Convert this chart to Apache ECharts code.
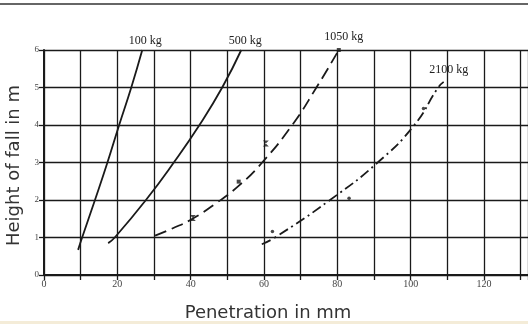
<!DOCTYPE html>
<html>
<head>
<meta charset="utf-8">
<script src="https://cdn.jsdelivr.net/npm/echarts@6/dist/echarts.min.js"></script>
<style>html,body{margin:0;padding:0;background:#fff;}#c{width:528px;height:324px;}</style>
</head>
<body>
<div id="c"></div>
<script>
// Curve names
var curveNames = ['100 kg', '500 kg', '1050 kg', '2100 kg'];
// Penetration (mm) and height of fall (m) along each curve
var kg100X = [9.3, 10.4, 13.9, 17.3, 20.5, 23.8, 26.8];
var kg100Y = [0.67, 1, 2, 3, 4, 5, 6];
var kg500X = [17.5, 19.3, 27.8, 35.4, 42.4, 48.6, 53.8];
var kg500Y = [0.85, 1, 2, 3, 4, 5, 6];
var kg1050X = [30.3, 35, 40.5, 47, 53, 59.5, 67.7, 74.3, 80.4];
var kg1050Y = [1.05, 1.24, 1.5, 1.92, 2.37, 3, 4, 5, 6];
var kg2100X = [59.4, 63, 78, 91, 101, 107.5, 109];
var kg2100Y = [0.82, 1, 2, 3, 4, 5, 5.15];
// Measured points
var crossX = [40.6, 60.5];
var crossY = [1.52, 3.51];
var squareX = [53.1, 80.4];
var squareY = [2.49, 6];
var dotX = [62.3, 83.2, 103.5];
var dotY = [1.16, 2.05, 4.44];
// Axis ticks
var xTickLabels = [0, 20, 40, 60, 80, 100, 120];
var yTickLabels = [0, 1, 2, 3, 4, 5, 6];

function pairs(xs, ys) { return xs.map(function (x, i) { return [x, ys[i]]; }); }

var ink = '#1a1a1a';
var labelFont = 'Liberation Serif';
var nameFont = 'DejaVu Sans';

function curve(name, xs, ys, type, labelOffset, labelDist) {
  var d = pairs(xs, ys);
  return {
    name: name, type: 'line', data: d, smooth: 0.5, symbol: 'none',
    lineStyle: { color: ink, width: 1.8, type: type },
    markPoint: {
      symbol: 'circle', symbolSize: 1, itemStyle: { color: 'rgba(0,0,0,0)' },
      silent: true,
      data: [{ coord: d[d.length - 1], label: { show: true, formatter: name, position: 'top', distance: labelDist, offset: labelOffset, color: '#222', fontFamily: labelFont, fontSize: 12 } }]
    },
    z: 3
  };
}

var chart = echarts.init(document.getElementById('c'), null, { renderer: 'canvas' });
chart.setOption({
  animation: false,
  backgroundColor: '#ffffff',
  grid: { left: 44, right: 0, top: 50, bottom: 49, containLabel: false, outerBoundsMode: 'none' },
  xAxis: {
    type: 'value', min: 0, max: 132, interval: 10,
    name: 'Penetration in mm', nameLocation: 'middle', nameGap: 29,
    nameTextStyle: { fontFamily: nameFont, fontSize: 18, color: '#333', padding: [0, 36, 0, 0] },
    axisLine: { show: true, lineStyle: { color: ink, width: 2 } },
    axisTick: { show: true, length: 5, lineStyle: { color: ink, width: 1.3 } },
    axisLabel: {
      margin: 4, fontFamily: labelFont, fontSize: 10, color: '#444',
      formatter: function (v) { return xTickLabels.indexOf(v) >= 0 ? String(v) : ''; }
    },
    splitLine: { show: true, lineStyle: { color: ink, width: 1.3 } }
  },
  yAxis: {
    type: 'value', min: 0, max: 6, interval: 1,
    name: 'Height of fall in m', nameLocation: 'middle', nameGap: 10,
    nameTextStyle: { fontFamily: nameFont, fontSize: 18, color: '#333', padding: [0, 6, 0, 0] },
    axisLine: { show: true, lineStyle: { color: ink, width: 2 } },
    axisTick: { show: true, length: 5, lineStyle: { color: ink, width: 1.3 } },
    axisLabel: {
      margin: 5, fontFamily: labelFont, fontSize: 9, color: '#444',
      formatter: function (v) { return yTickLabels.indexOf(v) >= 0 ? String(v) : ''; }
    },
    splitLine: { show: true, lineStyle: { color: ink, width: 1.3 } }
  },
  series: [
    curve(curveNames[0], kg100X, kg100Y, 'solid', [3, 0], 3),
    curve(curveNames[1], kg500X, kg500Y, 'solid', [4, 0], 3),
    curve(curveNames[2], kg1050X, kg1050Y, [12, 6], [5, 0], 7),
    curve(curveNames[3], kg2100X, kg2100Y, [10, 4, 2, 4], [5, 0], 6),
    { type: 'scatter', data: pairs(crossX, crossY), symbol: 'path://M0,0L10,0L0,10L10,10Z', symbolSize: [6, 6], itemStyle: { color: ink }, z: 4 },
    { type: 'scatter', data: pairs(squareX, squareY), symbol: 'rect', symbolSize: 4, itemStyle: { color: ink }, z: 4 },
    { type: 'scatter', data: pairs(dotX, dotY), symbol: 'circle', symbolSize: 3.5, itemStyle: { color: ink }, z: 4 }
  ],
  graphic: [
    { type: 'line', shape: { x1: 0, y1: 4, x2: 528, y2: 4 }, style: { stroke: '#333', lineWidth: 1.5 } },
    { type: 'rect', shape: { x: 0, y: 321, width: 528, height: 3 }, style: { fill: '#f4ecd8' } }
  ]
});
</script>
</body>
</html>
